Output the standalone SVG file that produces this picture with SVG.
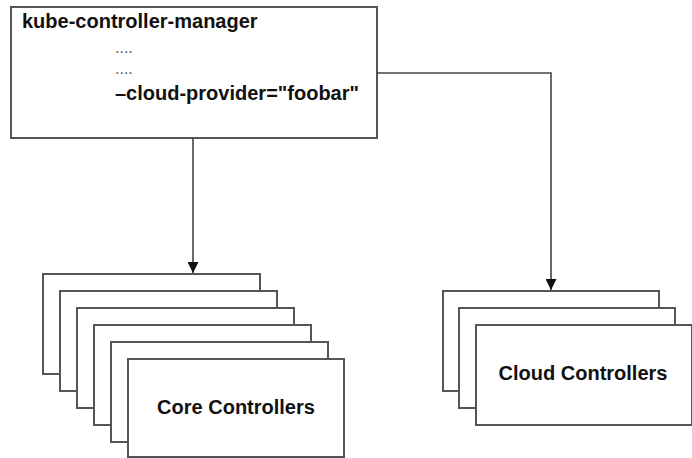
<svg xmlns="http://www.w3.org/2000/svg" width="692" height="458" viewBox="0 0 692 458">
<defs>
<style>
.box{fill:#fff;stroke:#555;stroke-width:2}
.t{font-family:"Liberation Sans",Arial,sans-serif;font-weight:bold;fill:#111}
.d{font-family:"Liberation Sans",Arial,sans-serif;fill:#555}
.c{fill:none;stroke:#444;stroke-width:1.6}
</style>
<marker id="ah" viewBox="0 0 10 10" refX="10" refY="5" markerWidth="11" markerHeight="11" markerUnits="userSpaceOnUse" orient="auto">
<path d="M0,0 L10,5 L0,10 Z" fill="#111"/>
</marker>
</defs>
<rect width="692" height="458" fill="#fff"/>
<g id="kube-controller-manager">
<rect class="box" x="11" y="7" width="366" height="131"/>
<text class="t" x="22" y="28" font-size="20">kube-controller-manager</text>
<text class="d" x="115" y="53" font-size="16">....</text>
<text class="d" x="115" y="74" font-size="16">....</text>
<text class="t" x="115" y="100" font-size="20">–cloud-provider="foobar"</text>
</g>
<g id="core-controllers">
<rect class="box" x="43" y="274" width="217" height="100"/>
<rect class="box" x="60" y="291" width="217" height="100"/>
<rect class="box" x="77" y="308" width="217" height="100"/>
<rect class="box" x="94" y="325" width="217" height="100"/>
<rect class="box" x="111" y="342" width="217" height="100"/>
<rect class="box" x="128" y="359" width="216" height="98"/>
<text class="t" x="236" y="414" font-size="20" text-anchor="middle">Core Controllers</text>
</g>
<g id="cloud-controllers">
<rect class="box" x="443" y="291" width="216" height="100"/>
<rect class="box" x="459" y="308" width="216" height="100"/>
<rect class="box" x="476" y="325" width="216" height="100"/>
<text class="t" x="583" y="380" font-size="20" text-anchor="middle">Cloud Controllers</text>
</g>
<g id="connectors">
<path class="c" d="M193,138 L193,273" marker-end="url(#ah)"/>
<path class="c" d="M377,73 L551,73 L551,290" marker-end="url(#ah)"/>
</g>
</svg>
